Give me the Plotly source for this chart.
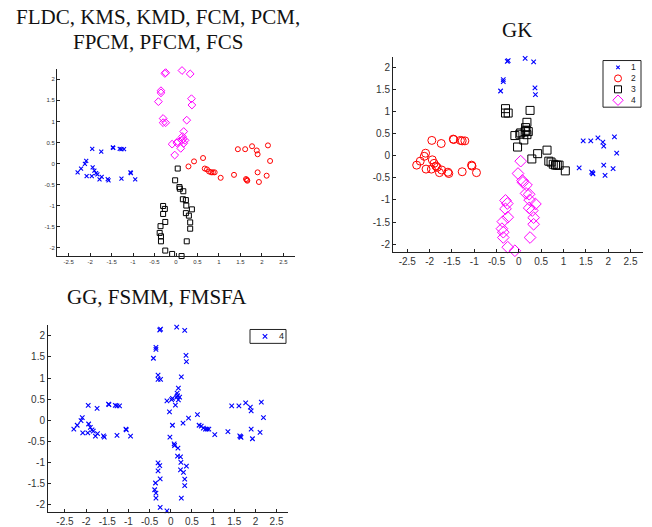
import plotly.graph_objects as go

W, H = 652, 527

# ---------------- data: the cross-shaped point set (four arms) ----------------
LEFT_X = [-1.95, -1.74, -1.47, -1.46, -1.31, -1.27, -1.21, -2.09, -2.12, -2.21, -2.29, -1.94, -1.90,
          -1.86, -1.83, -2.08, -1.96, -1.78, -1.73, -1.59, -1.57, -1.27, -1.06, -1.05, -0.95]
LEFT_Y = [0.35, 0.28, 0.38, 0.37, 0.35, 0.34, 0.34, 0.06, -0.01, -0.12, -0.21, -0.09, -0.17,
          -0.23, -0.26, -0.30, -0.30, -0.38, -0.32, -0.37, -0.40, -0.36, -0.21, -0.23, -0.38]

RIGHT_X = [0.29, 0.42, 0.63, 0.67, 0.72, 0.77, 0.82, 0.86, 0.90, 1.04, 1.35, 1.44, 1.61, 1.77,
           1.88, 1.90, 2.14, 2.19, 1.90, 2.11, 1.63, 1.65, 1.66, 1.93]
RIGHT_Y = [-0.07, 0.05, 0.13, -0.12, -0.14, -0.19, -0.21, -0.21, -0.21, -0.34, -0.27, 0.34, 0.34, 0.41,
           0.31, 0.22, 0.43, 0.06, -0.21, -0.29, -0.37, -0.39, -0.41, -0.44]

TOP_X = [-0.26, -0.24, 0.14, 0.33, -0.35, -0.35, -0.41, 0.36, 0.37, -0.30, -0.30, -0.24, 0.25, 0.18,
         0.15, 0.16, 0.21, 0.04, 0.02, 0.18, -0.09, 0.11, -0.03, 0.14]
TOP_Y = [2.14, 2.16, 2.21, 2.13, 1.73, 1.68, 1.47, 1.54, 1.39, 1.07, 0.97, 0.97, 1.03, 0.76,
         0.64, 0.58, 0.55, 0.52, 0.49, 0.48, 0.46, 0.36, 0.20, 0.55]

BOTTOM_X = [0.04, -0.02, 0.08, 0.09, 0.17, 0.16, 0.23, 0.24, 0.37, 0.23, 0.30, 0.33, 0.33, -0.30,
            -0.26, -0.30, -0.25, -0.36, -0.38, -0.35, -0.35, 0.25, -0.25, -0.09, 0.13]
BOTTOM_Y = [-0.12, -0.40, -0.56, -0.60, -0.66, -0.85, -0.87, -1.00, -1.09, -1.18, -1.24, -1.40, -1.55, -1.01,
            -1.08, -1.20, -1.39, -1.49, -1.65, -1.73, -1.85, -1.85, -2.07, -2.15, -2.20]

# cluster labels per arm, per method
FLDC_LEFT = [1, 1, 1, 1, 1, 1, 1, 1, 1, 1, 1, 1, 1, 1, 1, 1, 1, 1, 1, 1, 1, 1, 1, 1, 1]
FLDC_RIGHT = [2, 2, 2, 2, 2, 2, 2, 2, 2, 2, 2, 2, 2, 2, 2, 2, 2, 2, 2, 2, 2, 2, 2, 2]
FLDC_TOP = [4, 4, 4, 4, 4, 4, 4, 4, 4, 4, 4, 4, 4, 4, 4, 4, 4, 4, 4, 4, 4, 4, 4, 4]
FLDC_BOTTOM = [3, 3, 3, 3, 3, 3, 3, 3, 3, 3, 3, 3, 3, 3, 3, 3, 3, 3, 3, 3, 3, 3, 3, 3, 3]

GK_LEFT = [2, 2, 2, 2, 2, 2, 2, 2, 2, 2, 2, 2, 2, 2, 2, 2, 2, 2, 2, 2, 2, 2, 2, 2, 2]
GK_RIGHT = [3, 3, 3, 3, 3, 3, 3, 3, 3, 3, 1, 1, 1, 1, 1, 1, 1, 1, 1, 1, 1, 1, 1, 1]
GK_TOP = [1, 1, 1, 1, 1, 1, 1, 1, 1, 3, 3, 3, 3, 3, 3, 3, 3, 3, 3, 3, 3, 3, 3, 3]
GK_BOTTOM = [4, 4, 4, 4, 4, 4, 4, 4, 4, 4, 4, 4, 4, 4, 4, 4, 4, 4, 4, 4, 4, 4, 4, 4, 4]

X_TICKS = [-2.5, -2, -1.5, -1, -0.5, 0, 0.5, 1, 1.5, 2, 2.5]
Y_TICKS = [-2, -1.5, -1, -0.5, 0, 0.5, 1, 1.5, 2]
CLUSTER_NAMES = ["1", "2", "3", "4"]
GG_LEGEND = ["4"]

X = LEFT_X + RIGHT_X + TOP_X + BOTTOM_X
Y = LEFT_Y + RIGHT_Y + TOP_Y + BOTTOM_Y
LAB_FLDC = FLDC_LEFT + FLDC_RIGHT + FLDC_TOP + FLDC_BOTTOM
LAB_GK = GK_LEFT + GK_RIGHT + GK_TOP + GK_BOTTOM

# ---------------- styles ----------------
COLORS = {1: "#0000ff", 2: "#ff0000", 3: "#000000", 4: "#ff00ff"}
SYMBOLS = {1: "x-thin", 2: "circle-open", 3: "square-open", 4: "diamond-open"}
SIZE_SMALL = {1: 4, 2: 5, 3: 5, 4: 6}
SIZE_GK = {1: 4.5, 2: 8, 3: 8, 4: 9}


def fmt(v):
    return "%g" % v


def px_x(p):
    return p / W


def px_y(p):
    return 1 - p / H


fig = go.Figure()


def add_clusters(xs, ys, labs, xa, ya, sizes):
    for c in [1, 2, 3, 4]:
        px = [x for x, l in zip(xs, labs) if l == c]
        py = [y for y, l in zip(ys, labs) if l == c]
        if not px:
            continue
        fig.add_trace(go.Scatter(
            x=px, y=py, mode="markers", xaxis=xa, yaxis=ya, showlegend=False,
            cliponaxis=False,
            marker=dict(symbol=SYMBOLS[c], size=sizes[c], color=COLORS[c],
                        line=dict(color=COLORS[c], width=1.1 if c == 1 else 1)),
        ))


add_clusters(X, Y, LAB_FLDC, "x", "y", SIZE_SMALL)
add_clusters(X, Y, LAB_GK, "x2", "y2", SIZE_GK)
add_clusters(X, Y, [1] * len(X), "x3", "y3", {1: 4.5})

# ---------------- legend keys (drawn in a pixel-space helper axis) ----------------
GK_ROWS = [68, 79, 90, 101]
for i, name in enumerate(CLUSTER_NAMES):
    c = i + 1
    fig.add_trace(go.Scatter(
        x=[618], y=[GK_ROWS[i]], mode="markers", xaxis="x4", yaxis="y4", showlegend=False,
        cliponaxis=False,
        marker=dict(symbol=SYMBOLS[c], size=SIZE_GK[c] - 1, color=COLORS[c],
                    line=dict(color=COLORS[c], width=1.1 if c == 1 else 1))))
fig.add_trace(go.Scatter(
    x=[265], y=[339], mode="markers", xaxis="x4", yaxis="y4", showlegend=False, cliponaxis=False,
    marker=dict(symbol="x-thin", size=4.5, color=COLORS[1], line=dict(color=COLORS[1], width=1.1))))


def axis_pair(xd, yd, xr, yr, anchor_x, anchor_y, fsize, fcolor):
    xa = dict(domain=[px_x(xd[0]), px_x(xd[1])], range=xr, anchor=anchor_y,
              showline=True, linecolor="#222", linewidth=1, ticks="inside", ticklen=3,
              tickcolor="#222", tickvals=X_TICKS, ticktext=[fmt(v) for v in X_TICKS],
              tickfont=dict(family="Liberation Sans, Arial", size=fsize, color=fcolor),
              showgrid=False, zeroline=False, mirror=False, fixedrange=True)
    ya = dict(domain=[px_y(yd[1]), px_y(yd[0])], range=yr, anchor=anchor_x,
              showline=True, linecolor="#222", linewidth=1, ticks="inside", ticklen=3,
              tickcolor="#222", tickvals=Y_TICKS, ticktext=[fmt(v) for v in Y_TICKS],
              tickfont=dict(family="Liberation Sans, Arial", size=fsize, color=fcolor),
              showgrid=False, zeroline=False, mirror=False, fixedrange=True)
    return xa, ya


xa1, ya1 = axis_pair((57, 295), (70, 258), [-2.77, 2.77], [-2.20, 2.235], "x", "y", 6, "#333")
xa2, ya2 = axis_pair((393, 643), (57, 254), [-2.82, 2.78], [-2.18, 2.25], "x2", "y2", 10, "#333")
xa3, ya3 = axis_pair((48, 288), (327, 516), [-2.90, 2.77], [-2.18, 2.27], "x3", "y3", 10, "#333")

xa4 = dict(domain=[0, 1], range=[0, W], visible=False, anchor="y4", fixedrange=True)
ya4 = dict(domain=[0, 1], range=[H, 0], visible=False, anchor="x4", fixedrange=True)

shapes = [
    dict(type="rect", xref="paper", yref="paper", x0=px_x(603), x1=px_x(641), y0=px_y(61), y1=px_y(108),
         line=dict(color="#222", width=1), fillcolor="rgba(0,0,0,0)", layer="above"),
    dict(type="rect", xref="paper", yref="paper", x0=px_x(250), x1=px_x(286), y0=px_y(332), y1=px_y(346),
         line=dict(color="#222", width=1), fillcolor="rgba(0,0,0,0)", layer="above"),
]

TITLE_FONT = dict(family="Liberation Serif, Times New Roman, serif", size=21, color="#111")
annotations = [
    dict(text="FLDC, KMS, KMD, FCM, PCM,", x=px_x(158), y=px_y(17), xref="paper", yref="paper",
         showarrow=False, font=TITLE_FONT, xanchor="center", yanchor="middle"),
    dict(text="FPCM, PFCM, FCS", x=px_x(158), y=px_y(42), xref="paper", yref="paper",
         showarrow=False, font=TITLE_FONT, xanchor="center", yanchor="middle"),
    dict(text="GK", x=px_x(517), y=px_y(30), xref="paper", yref="paper",
         showarrow=False, font=TITLE_FONT, xanchor="center", yanchor="middle"),
    dict(text="GG, FSMM, FMSFA", x=px_x(157), y=px_y(299), xref="paper", yref="paper",
         showarrow=False, font=TITLE_FONT, xanchor="center", yanchor="middle"),
    dict(text="<br>".join(CLUSTER_NAMES), x=px_x(633), y=px_y(84.5), xref="paper", yref="paper",
         showarrow=False, xanchor="center", yanchor="middle", borderpad=0,
         font=dict(family="Liberation Sans, Arial", size=8.5, color="#222")),
    dict(text=GG_LEGEND[0], x=px_x(281), y=px_y(339), xref="paper", yref="paper",
         showarrow=False, xanchor="center", yanchor="middle", borderpad=0,
         font=dict(family="Liberation Sans, Arial", size=9, color="#222")),
]

fig.update_layout(
    width=W, height=H, margin=dict(l=0, r=0, t=0, b=0),
    paper_bgcolor="white", plot_bgcolor="rgba(0,0,0,0)", showlegend=False,
    xaxis=xa1, yaxis=ya1, xaxis2=xa2, yaxis2=ya2, xaxis3=xa3, yaxis3=ya3,
    xaxis4=xa4, yaxis4=ya4,
    shapes=shapes, annotations=annotations,
)

fig.write_html("out.html")
